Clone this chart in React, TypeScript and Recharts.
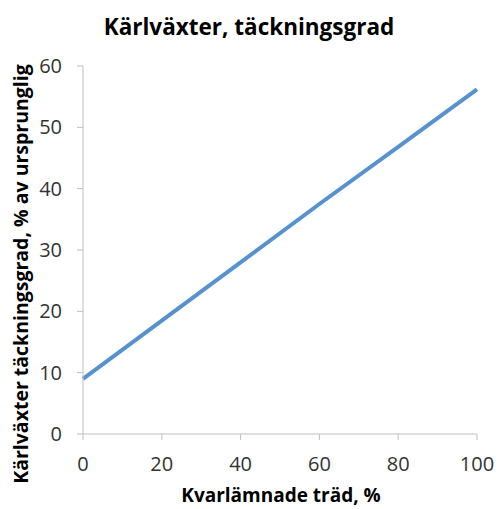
import React from 'react';
import { LineChart, Line, XAxis, YAxis } from 'recharts';

// Values
const treesLeft = [0, 20, 40, 60, 80, 100];
const coverage = [9, 18.5, 28, 37.5, 46.8, 56.2];
const xTicks = [0, 20, 40, 60, 80, 100];
const yTicks = [0, 10, 20, 30, 40, 50, 60];

const title = 'Kärlväxter, täckningsgrad';
const xTitle = 'Kvarlämnade träd, %';
const yTitle = 'Kärlväxter täckningsgrad, % av ursprunglig';

const data = treesLeft.map((t, i) => ({ t, v: coverage[i] }));

const FONT = '"Open Sans", "Liberation Sans", sans-serif';
const AXIS = '#bfbfbf';
const TEXT = '#333333';

const YTitle = ({ viewBox }: any) => {
  const x = viewBox.x + 20;
  const y = viewBox.y + viewBox.height / 2 + 24;
  return (
    <text
      x={x}
      y={y}
      transform={`rotate(-90, ${x}, ${y})`}
      textAnchor="middle"
      dominantBaseline="central"
      fontFamily={FONT}
      fontWeight={700}
      fontSize={19.5}
      fill="#000"
    >
      {yTitle}
    </text>
  );
};

const XTitle = ({ viewBox }: any) => {
  const x = viewBox.x + viewBox.width / 2 + 1;
  return (
    <text
      x={x}
      y={495}
      textAnchor="middle"
      dominantBaseline="central"
      fontFamily={FONT}
      fontWeight={700}
      fontSize={19}
      fill="#000"
    >
      {xTitle}
    </text>
  );
};

export default function App() {
  return (
    <div style={{ position: 'absolute', left: 0, top: 0, width: 498, height: 509, background: '#fff' }}>
      <div
        style={{
          position: 'absolute',
          left: 0,
          top: 11,
          width: 498,
          textAlign: 'center',
          fontFamily: FONT,
          fontWeight: 700,
          fontSize: 22.5,
          lineHeight: '32px',
          color: '#000',
        }}
      >
        {title}
      </div>
      <LineChart width={498} height={509} data={data} margin={{ top: 66, right: 21, bottom: 0, left: 0 }}>
        <XAxis
          dataKey="t"
          type="number"
          domain={[0, 100]}
          ticks={xTicks}
          height={75}
          stroke={AXIS}
          tickSize={6}
          tickMargin={17}
          tick={{ fill: TEXT, fontSize: 20, fontFamily: FONT }}
          label={<XTitle />}
        />
        <YAxis
          type="number"
          domain={[0, 60]}
          ticks={yTicks}
          width={83}
          stroke={AXIS}
          tickSize={6}
          tickMargin={15}
          tick={{ fill: TEXT, fontSize: 20, fontFamily: FONT }}
          label={<YTitle />}
        />
        <Line
          type="linear"
          dataKey="v"
          stroke="#5592cf"
          strokeWidth={4}
          dot={false}
          isAnimationActive={false}
        />
      </LineChart>
    </div>
  );
}
